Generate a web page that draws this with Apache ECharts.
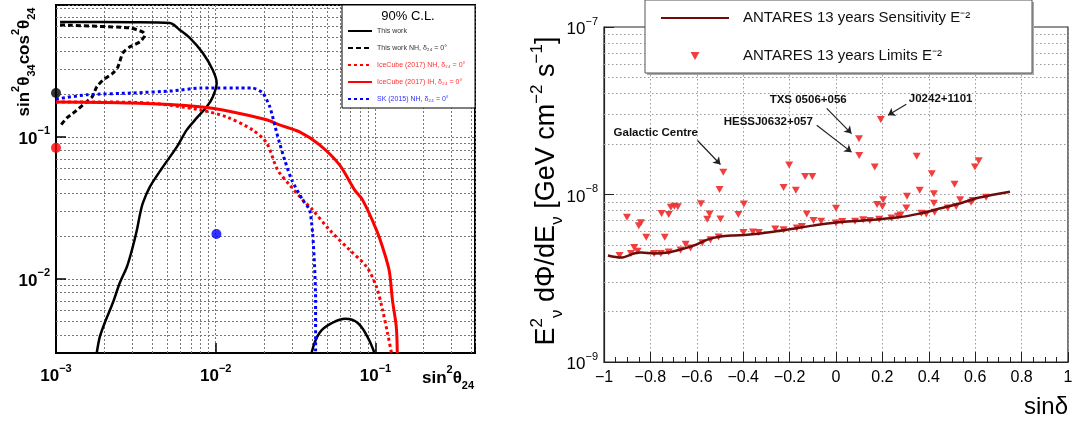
<!DOCTYPE html>
<html><head><meta charset="utf-8">
<script src="https://cdn.jsdelivr.net/npm/echarts@6/dist/echarts.min.js"></script>
<style>html,body{margin:0;padding:0;background:#fff}#c{width:1077px;height:423px}</style>
</head><body><div id="c"></div>
<script>
// ===== Left panel: sin^2(theta24) vs sin^2(theta34)cos^2(theta24), 90% C.L. contours =====
const thisWork = [[1.06e-3,0.646],[3.0e-3,0.643],[5.16e-3,0.635],[5.96e-3,0.567],[6.88e-3,0.498],[8.3e-3,0.390],[9.58e-3,0.296],[1.014e-2,0.240],[9.58e-3,0.191],[8.79e-3,0.163],[7.61e-3,0.136],[6.59e-3,0.112],[5.71e-3,0.085],[4.67e-3,0.0615],[3.87e-3,0.0445],[3.50e-3,0.0343],[3.35e-3,0.0282],[3.21e-3,0.0221],[2.99e-3,0.016],[2.78e-3,0.01216],[2.51e-3,0.00937],[2.27e-3,0.00678],[2.02e-3,0.0049],[1.88e-3,0.0039],[1.80e-3,0.00301]];
const thisWorkIsland = [[0.0398,0.003],[0.0447,0.00417],[0.0539,0.0049],[0.0649,0.00523],[0.0772,0.0049],[0.0891,0.0039],[0.0986,0.003]];
const thisWorkNH = [[1.06e-3,0.615],[2.9e-3,0.586],[3.5e-3,0.548],[3.6e-3,0.522],[3.35e-3,0.467],[2.9e-3,0.431],[2.62e-3,0.390],[2.44e-3,0.311],[2.27e-3,0.281],[1.97e-3,0.252],[1.80e-3,0.225],[1.68e-3,0.191],[1.52e-3,0.173],[1.31e-3,0.150],[1.17e-3,0.136],[1.06e-3,0.119]];
const iceCubeNH = [[1e-3,0.176],[1.88e-3,0.176],[3.87e-3,0.173],[7.94e-3,0.155],[0.01172,0.138],[0.017,0.112],[0.0208,0.0907],[0.0244,0.0586],[0.029,0.0459],[0.035,0.036],[0.0404,0.0306],[0.0516,0.0221],[0.0688,0.016],[0.0879,0.01216],[0.1014,0.00879],[0.1107,0.00605],[0.1189,0.00417],[0.126,0.003]];
const iceCubeIH = [[1e-3,0.176],[3.03e-3,0.173],[7.94e-3,0.163],[0.01277,0.150],[0.0208,0.132],[0.0251,0.1215],[0.0335,0.1084],[0.0447,0.0878],[0.0596,0.0635],[0.074,0.0423],[0.083,0.036],[0.1014,0.0221],[0.1138,0.0152],[0.1223,0.0112],[0.1277,0.00711],[0.135,0.0046],[0.137,0.003]];
const sk2015 = [[1e-3,0.185],[1.56e-3,0.198],[3.03e-3,0.204],[5.39e-3,0.211],[7.94e-3,0.221],[0.017,0.221],[0.0197,0.204],[0.0218,0.163],[0.0241,0.1067],[0.0251,0.0907],[0.027,0.0689],[0.0299,0.0498],[0.035,0.036],[0.0387,0.0306],[0.0404,0.0211],[0.0416,0.01216],[0.0422,0.00711],[0.0422,0.003]];
const bestFits = [[1e-3,0.204],[1e-3,0.0837],[0.0101,0.0207]];
const bestFitColors = ['#000000','#ff0000','#0000ff'];
const leftNames = ['This work','This work NH, δ₂₄ = 0°','IceCube (2017) NH, δ₂₄ = 0°','IceCube (2017) IH, δ₂₄ = 0°','SK (2015) NH, δ₂₄ = 0°'];
const leftXMinor = [2e-3,3e-3,4e-3,5e-3,6e-3,7e-3,8e-3,9e-3,2e-2,3e-2,4e-2,5e-2,6e-2,7e-2,8e-2,9e-2,0.2,0.3,0.4];
const leftYMinor = [4e-3,5e-3,6e-3,7e-3,8e-3,9e-3,2e-2,3e-2,4e-2,5e-2,6e-2,7e-2,8e-2,9e-2,0.2,0.3,0.4,0.5,0.6,0.7,0.8];

// ===== Right panel: ANTARES 13 years =====
const sensSinDec = [-0.983,-0.927,-0.871,-0.841,-0.785,-0.725,-0.67,-0.614,-0.554,-0.498,-0.442,-0.382,-0.27,-0.185,-0.1,0.0,0.116,0.262,0.36,0.446,0.532,0.618,0.75];
const sensFlux = [4.32e-9,4.2e-9,4.44e-9,4.5e-9,4.44e-9,4.5e-9,4.69e-9,4.95e-9,5.38e-9,5.61e-9,5.7e-9,5.75e-9,6.0e-9,6.25e-9,6.52e-9,6.8e-9,6.99e-9,7.28e-9,7.69e-9,8.24e-9,8.83e-9,9.6e-9,1.04e-8];
const limSinDec = [-0.486,-0.502,-0.582,-0.545,-0.555,-0.498,-0.421,-0.397,-0.901,-0.841,-0.850,-0.818,-0.752,-0.721,-0.712,-0.697,-0.682,-0.738,-0.399,-0.358,-0.333,-0.126,-0.097,0.193,0.099,0.100,0.167,-0.202,-0.226,-0.173,-0.133,-0.102,0.0,-0.064,0.177,0.203,0.200,0.306,0.303,0.348,0.413,0.361,0.422,0.422,0.511,0.615,0.599,0.535,0.589,0.647,
  -0.933,-0.870,-0.884,-0.855,-0.784,-0.755,-0.721,-0.67,-0.648,-0.627,-0.576,-0.541,-0.506,-0.262,-0.226,-0.169,-0.147,0.0,0.027,0.082,0.117,0.146,0.186,0.239,0.267,0.278,0.368,0.389,0.425,0.482,0.518,0.582];
const limFlux = [1.36e-8,1.07e-8,8.8e-9,7.64e-9,7.12e-9,7.15e-9,7.59e-9,8.77e-9,7.31e-9,6.79e-9,6.51e-9,5.55e-9,7.69e-9,7.59e-9,8.39e-9,8.51e-9,8.44e-9,5.55e-9,5.94e-9,5.98e-9,5.94e-9,7.66e-9,6.99e-9,2.8e-8,2.15e-8,1.71e-8,1.46e-8,1.50e-8,1.10e-8,1.06e-8,1.28e-8,1.28e-8,8.28e-9,6.92e-9,8.71e-9,9.29e-9,8.48e-9,9.77e-9,8.32e-9,1.69e-8,1.33e-8,1.06e-8,1.01e-8,8.87e-9,1.15e-8,1.59e-8,1.46e-8,9.29e-9,9.2e-9,9.64e-9,
  4.32e-9,4.83e-9,4.45e-9,4.59e-9,4.45e-9,4.45e-9,4.54e-9,4.66e-9,5.04e-9,4.8e-9,5.16e-9,5.36e-9,5.58e-9,6.23e-9,6.15e-9,6.32e-9,6.43e-9,6.77e-9,6.89e-9,6.92e-9,7.06e-9,6.99e-9,7.11e-9,7.24e-9,7.41e-9,7.55e-9,7.73e-9,7.66e-9,7.83e-9,8.32e-9,8.48e-9,8.99e-9];
const rightNames = ['ANTARES 13 years Sensitivity E⁻²','ANTARES 13 years Limits E⁻²'];
const sourceNames = ['Galactic Centre','HESSJ0632+057','TXS 0506+056','J0242+1101'];
const sourceLabelAt = [[-0.777,2.35e-8],[-0.292,2.70e-8],[-0.12,3.66e-8],[0.451,3.71e-8]];
const arrowFrom = [[-0.597,2.10e-8],[-0.083,2.59e-8],[-0.04,3.27e-8],[0.303,3.46e-8]];
const arrowTo = [[-0.498,1.51e-8],[0.067,1.79e-8],[0.067,2.31e-8],[0.224,2.97e-8]];
const rightYMinor = [2e-9,3e-9,4e-9,5e-9,6e-9,7e-9,8e-9,9e-9,2e-8,3e-8,4e-8,5e-8,6e-8,7e-8,8e-8,9e-8];

const FONT = '"Liberation Sans", Arial, Helvetica, sans-serif';
function powLabel(v){
  const l = Math.log10(v), e = Math.round(l);
  if (Math.abs(l - e) > 1e-6) return '';
  return '{b|10}{s|' + (e < 0 ? '−' : '') + Math.abs(e) + '}';
}
function richPow(big, small, weight){
  return {
    b:{fontFamily:FONT,fontSize:big,fontWeight:weight,color:'#000',lineHeight:big+5,verticalAlign:'bottom'},
    s:{fontFamily:FONT,fontSize:small,fontWeight:weight,color:'#000',lineHeight:small+1,verticalAlign:'top'}
  };
}
const titleRich = (size, weight) => ({
  m:{fontFamily:FONT,fontSize:size,fontWeight:weight,color:'#000',lineHeight:size+10,verticalAlign:'middle'},
  p:{fontFamily:FONT,fontSize:Math.round(size*0.62),fontWeight:weight,color:'#000',lineHeight:Math.round(size*0.62),verticalAlign:'top'},
  b:{fontFamily:FONT,fontSize:Math.round(size*0.62),fontWeight:weight,color:'#000',lineHeight:Math.round(size*0.62),verticalAlign:'bottom'}
});

const leftGrid = {color:'#777', type:[2,2], width:1};
const rightGrid = {color:'#999', type:[1.5,2.5], width:1};

const option = {
  animation:false,
  backgroundColor:'#fff',
  grid:[
    {left:56, top:5, right:602, bottom:70, show:true, borderColor:'#000', borderWidth:2, backgroundColor:'rgba(0,0,0,0)'},
    {left:604, top:27, right:9, bottom:61, show:true, borderColor:'#222', borderWidth:1.2, backgroundColor:'rgba(0,0,0,0)'}
  ],
  xAxis:[
    {type:'log', logBase:10, gridIndex:0, min:0.001, max:0.42,
     axisLine:{show:true, onZero:false, lineStyle:{color:'#000', width:2}},
     axisTick:{show:true, inside:true, length:10, lineStyle:{color:'#000', width:1.5}},
     axisLabel:{margin:10, formatter:powLabel, rich:richPow(17,11,'bold')},
     splitLine:{show:true, lineStyle:leftGrid}},
    {type:'value', gridIndex:1, min:-1, max:1, interval:0.2,
     axisLine:{show:true, onZero:false, lineStyle:{color:'#222', width:1.2}},
     axisTick:{show:true, inside:true, length:10, lineStyle:{color:'#222', width:1}},
     minorTick:{show:true, splitNumber:4, length:5, lineStyle:{color:'#222', width:1}},
     axisLabel:{margin:8, fontFamily:FONT, fontSize:16, color:'#000',
       formatter:v => String(Math.round(v*10)/10).replace('-', '−')},
     splitLine:{show:true, lineStyle:rightGrid}}
  ],
  yAxis:[
    {type:'log', logBase:10, gridIndex:0, min:0.003, max:0.85,
     axisLine:{show:true, onZero:false, lineStyle:{color:'#000', width:2}},
     axisTick:{show:true, inside:true, length:10, lineStyle:{color:'#000', width:1.5}},
     axisLabel:{margin:6, formatter:powLabel, rich:richPow(17,11,'bold')},
     splitLine:{show:true, lineStyle:leftGrid}},
    {type:'log', logBase:10, gridIndex:1, min:1e-9, max:1e-7,
     axisLine:{show:true, onZero:false, lineStyle:{color:'#222', width:1.2}},
     axisTick:{show:true, inside:true, length:10, lineStyle:{color:'#222', width:1}},
     axisLabel:{margin:6, formatter:powLabel, rich:richPow(17,11,'normal')},
     splitLine:{show:true, lineStyle:rightGrid}}
  ],
  legend:[
    {left:347, top:27, orient:'vertical', itemWidth:24, itemHeight:8, itemGap:9, padding:0,
     itemStyle:{opacity:0},
     textStyle:{fontFamily:FONT, fontSize:7, lineHeight:8},
     data:[
       {name:leftNames[0], textStyle:{color:'#333'}},
       {name:leftNames[1], textStyle:{color:'#333'}},
       {name:leftNames[2], textStyle:{color:'#ff3030'}},
       {name:leftNames[3], textStyle:{color:'#ff3030'}},
       {name:leftNames[4], textStyle:{color:'#3030ff'}}
     ]},
    {left:660, top:9, orient:'vertical', itemWidth:68, itemHeight:8, itemGap:20, padding:0,
     textStyle:{fontFamily:FONT, fontSize:15, lineHeight:18, color:'#111', padding:[0,0,0,9]},
     data:[{name:rightNames[0], itemStyle:{opacity:0}}, {name:rightNames[1]}]}
  ],
  graphic:[
    {type:'rect', z:3, shape:{x:342, y:5, width:133, height:103}, style:{fill:'#fff', stroke:'#000', lineWidth:1}},
    {type:'text', z:5, x:408, y:16, style:{text:'90% C.L.', fontFamily:FONT, fontSize:13, fill:'#000', align:'center', verticalAlign:'middle'}},
    {type:'rect', z:3, shape:{x:647, y:2, width:387, height:73}, style:{fill:'#aaa'}},
    {type:'rect', z:3, shape:{x:645, y:0, width:387, height:73}, style:{fill:'#fff', stroke:'#555', lineWidth:1}},
    {type:'text', z:5, x:24, y:62, rotation:Math.PI/2,
     style:{text:'{m|sin}{p|2}{m|θ}{b|34}{m|cos}{p|2}{m|θ}{b|24}', rich:titleRich(17,'bold'), align:'center', verticalAlign:'middle'}},
    {type:'text', z:5, x:448, y:378,
     style:{text:'{m|sin}{p|2}{m|θ}{b|24}', rich:titleRich(17,'bold'), align:'center', verticalAlign:'middle'}},
    {type:'text', z:5, x:547, y:191, rotation:Math.PI/2,
     style:{text:'{m|E}{p|2}{b|ν}{m| dΦ/dE}{b|ν}{m| [GeV cm}{p|−2}{m| s}{p|−1}{m|]}', rich:titleRich(27,'normal'), align:'center', verticalAlign:'middle'}},
    {type:'text', z:5, x:1068, y:407,
     style:{text:'sinδ', fontFamily:FONT, fontSize:24, fill:'#000', align:'right', verticalAlign:'middle'}}
  ],
  series:[
    {name:leftNames[0], type:'line', xAxisIndex:0, yAxisIndex:0, data:thisWork, smooth:0.3, symbol:'none',
     lineStyle:{color:'#000', width:2.5}, itemStyle:{color:'#000'},
     markLine:{silent:true, symbol:'none', precision:8, z:1, label:{show:false}, lineStyle:leftGrid, emphasis:{disabled:true},
       data:[...leftXMinor.map(v => ({xAxis:v})), ...leftYMinor.map(v => ({yAxis:v}))]}},
    {name:leftNames[0], type:'line', xAxisIndex:0, yAxisIndex:0, data:thisWorkIsland, smooth:0.4, symbol:'none',
     lineStyle:{color:'#000', width:2.5}, itemStyle:{color:'#000'}},
    {name:leftNames[1], type:'line', xAxisIndex:0, yAxisIndex:0, data:thisWorkNH, smooth:0.2, symbol:'none',
     lineStyle:{color:'#000', width:3, type:[5,3]}, itemStyle:{color:'#000'}},
    {name:leftNames[2], type:'line', xAxisIndex:0, yAxisIndex:0, data:iceCubeNH, smooth:0.3, symbol:'none',
     lineStyle:{color:'#ff0000', width:3, type:[3,3]}, itemStyle:{color:'#ff0000'}},
    {name:leftNames[3], type:'line', xAxisIndex:0, yAxisIndex:0, data:iceCubeIH, smooth:0.3, symbol:'none',
     lineStyle:{color:'#ff0000', width:3}, itemStyle:{color:'#ff0000'}},
    {name:leftNames[4], type:'line', xAxisIndex:0, yAxisIndex:0, data:sk2015, smooth:0.2, symbol:'none',
     lineStyle:{color:'#0000ff', width:3, type:[3,3]}, itemStyle:{color:'#0000ff'}},
    {name:'Best fit', type:'scatter', xAxisIndex:0, yAxisIndex:0, symbolSize:10, clip:false,
     data:bestFits.map((p,i) => ({value:p, itemStyle:{color:bestFitColors[i]}}))},
    {name:rightNames[0], type:'line', xAxisIndex:1, yAxisIndex:1, z:4,
     data:sensSinDec.map((s,i) => [s, sensFlux[i]]), smooth:0.3, symbol:'none',
     lineStyle:{color:'#6e0c0c', width:2.5}, itemStyle:{color:'#8b1a1a'},
     markLine:{silent:true, symbol:'none', precision:12, z:1, label:{show:false}, lineStyle:rightGrid, emphasis:{disabled:true},
       data:rightYMinor.map(v => ({yAxis:v}))}},
    {name:rightNames[1], type:'scatter', xAxisIndex:1, yAxisIndex:1, z:3,
     data:limSinDec.map((s,i) => [s, limFlux[i]]),
     symbol:'path://M0,0L10,0L5,9Z', symbolSize:[8,7], itemStyle:{color:'#f03535', opacity:0.95},
     markLine:{silent:true, symbol:['none','arrow'], symbolSize:7, z:6, label:{show:false},
       lineStyle:{color:'#222', width:1.2, type:'solid'}, emphasis:{disabled:true},
       data:arrowFrom.map((p,i) => [{coord:p}, {coord:arrowTo[i]}])},
     markPoint:{silent:true, symbol:'rect', symbolSize:1, itemStyle:{color:'rgba(0,0,0,0)'}, z:6,
       label:{show:true, position:'inside', formatter:'{b}', fontFamily:FONT, fontSize:11.5, fontWeight:'bold', color:'#111'},
       data:sourceNames.map((n,i) => ({name:n, coord:sourceLabelAt[i]}))}}
  ]
};
const chart = echarts.init(document.getElementById('c'), null, {renderer:'canvas'});
chart.setOption(option);
</script>
</body></html>
